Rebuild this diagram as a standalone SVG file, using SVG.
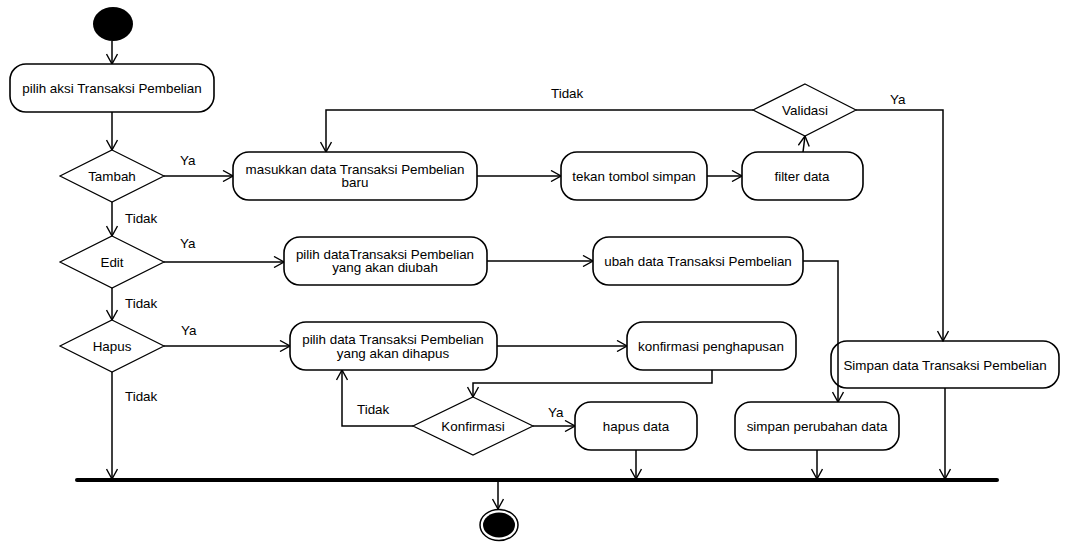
<svg xmlns="http://www.w3.org/2000/svg" width="1066" height="542" viewBox="0 0 1066 542">
<style>
.box{fill:#fff;stroke:#000;stroke-width:1.6}
.dia{fill:#fff;stroke:#000;stroke-width:1.2}
.t{font-family:"Liberation Sans",Arial,sans-serif;font-size:13.4px;fill:#000;text-anchor:middle;dominant-baseline:central}
.lbl{font-family:"Liberation Sans",Arial,sans-serif;font-size:13.4px;fill:#000;dominant-baseline:central}
.c{fill:none;stroke:#000;stroke-width:1.5}
</style>
<defs>
<marker id="a" viewBox="0 0 12 12" refX="11" refY="6" markerWidth="12" markerHeight="12" markerUnits="userSpaceOnUse" orient="auto">
<path d="M1,0.5 L11,6 L1,11.5" fill="none" stroke="#000" stroke-width="1.4"/>
</marker>
</defs>
<rect width="1066" height="542" fill="#fff"/>
<g id="connectors">
<path class="c" d="M112,41 V64" marker-end="url(#a)"/>
<path class="c" d="M112,112 V150" marker-end="url(#a)"/>
<path class="c" d="M164,176 H233" marker-end="url(#a)"/>
<path class="c" d="M112,202 V236" marker-end="url(#a)"/>
<path class="c" d="M164,262 H284" marker-end="url(#a)"/>
<path class="c" d="M112,288 V320" marker-end="url(#a)"/>
<path class="c" d="M164,346 H290" marker-end="url(#a)"/>
<path class="c" d="M112,372 V479" marker-end="url(#a)"/>
<path class="c" d="M477,176 H561" marker-end="url(#a)"/>
<path class="c" d="M707,176 H742" marker-end="url(#a)"/>
<path class="c" d="M803,152 L805,136" marker-end="url(#a)"/>
<path class="c" d="M753,110 H326 V152" marker-end="url(#a)"/>
<path class="c" d="M856,110 H943 V341" marker-end="url(#a)"/>
<path class="c" d="M487,261 H593" marker-end="url(#a)"/>
<path class="c" d="M803,261 H838 V402" marker-end="url(#a)"/>
<path class="c" d="M497,346 H627" marker-end="url(#a)"/>
<path class="c" d="M712,370 V383 H473 V397" marker-end="url(#a)"/>
<path class="c" d="M413,426 H342 V370" marker-end="url(#a)"/>
<path class="c" d="M533,426 H575" marker-end="url(#a)"/>
<path class="c" d="M636,450 V479" marker-end="url(#a)"/>
<path class="c" d="M817,450 V479" marker-end="url(#a)"/>
<path class="c" d="M945,388 V479" marker-end="url(#a)"/>
<path class="c" d="M498,482 V509" marker-end="url(#a)"/>
<text class="lbl" x="180" y="160">Ya</text>
<text class="lbl" x="125" y="218">Tidak</text>
<text class="lbl" x="180" y="243">Ya</text>
<text class="lbl" x="125" y="303">Tidak</text>
<text class="lbl" x="181" y="330">Ya</text>
<text class="lbl" x="125" y="396">Tidak</text>
<text class="lbl" x="551" y="93">Tidak</text>
<text class="lbl" x="890" y="99">Ya</text>
<text class="lbl" x="357" y="409">Tidak</text>
<text class="lbl" x="548" y="412">Ya</text>
</g>
<g id="start"><ellipse cx="113" cy="24" rx="20" ry="17" fill="#000"/></g>
<g id="pilihAksi"><rect class="box" x="10" y="64" width="204" height="48" rx="16"/><text class="t" x="112" y="88">pilih aksi Transaksi Pembelian</text></g>
<g id="tambah"><polygon class="dia" points="112,150 164,176 112,202 60,176"/><text class="t" x="112" y="176">Tambah</text></g>
<g id="edit"><polygon class="dia" points="112,236 164,262 112,288 60,262"/><text class="t" x="112" y="262">Edit</text></g>
<g id="hapus"><polygon class="dia" points="112,320 164,346 112,372 60,346"/><text class="t" x="112" y="346">Hapus</text></g>
<g id="masukkan"><rect class="box" x="233" y="152" width="244" height="48" rx="16"/><text class="t" x="355" y="169">masukkan data Transaksi Pembelian</text><text class="t" x="355" y="182">baru</text></g>
<g id="tekan"><rect class="box" x="561" y="152" width="146" height="48" rx="16"/><text class="t" x="634" y="176">tekan tombol simpan</text></g>
<g id="filter"><rect class="box" x="742" y="152" width="121" height="48" rx="16"/><text class="t" x="802" y="176">filter data</text></g>
<g id="validasi"><polygon class="dia" points="805,84 856,110 805,136 753,110"/><text class="t" x="805" y="110">Validasi</text></g>
<g id="pilihUbah"><rect class="box" x="284" y="237" width="203" height="48" rx="16"/><text class="t" x="385" y="254">pilih dataTransaksi Pembelian</text><text class="t" x="385" y="267">yang akan diubah</text></g>
<g id="ubah"><rect class="box" x="593" y="237" width="210" height="48" rx="16"/><text class="t" x="698" y="261">ubah data Transaksi Pembelian</text></g>
<g id="simpanData"><rect class="box" x="831" y="341" width="228" height="47" rx="16" fill-opacity="0"/><text class="t" x="945" y="365">Simpan data Transaksi Pembelian</text></g>
<g id="pilihHapus"><rect class="box" x="290" y="322" width="207" height="48" rx="16"/><text class="t" x="393" y="339">pilih data Transaksi Pembelian</text><text class="t" x="393" y="353">yang akan dihapus</text></g>
<g id="konfPenghapusan"><rect class="box" x="627" y="322" width="169" height="48" rx="16"/><text class="t" x="711" y="346">konfirmasi penghapusan</text></g>
<g id="konfirmasi"><polygon class="dia" points="473,397 533,426 473,455 413,426"/><text class="t" x="473" y="426">Konfirmasi</text></g>
<g id="hapusData"><rect class="box" x="575" y="402" width="122" height="48" rx="16"/><text class="t" x="636" y="426">hapus data</text></g>
<g id="simpanPerubahan"><rect class="box" x="735" y="402" width="164" height="48" rx="16"/><text class="t" x="817" y="426">simpan perubahan data</text></g>
<g id="join"><line x1="77" y1="480" x2="997" y2="480" stroke="#000" stroke-width="4" stroke-linecap="round"/></g>
<g id="end"><ellipse cx="499" cy="525" rx="19" ry="15.5" fill="#fff" stroke="#000" stroke-width="1.5"/><ellipse cx="499" cy="525" rx="16" ry="12.5" fill="#000"/></g>
</svg>
